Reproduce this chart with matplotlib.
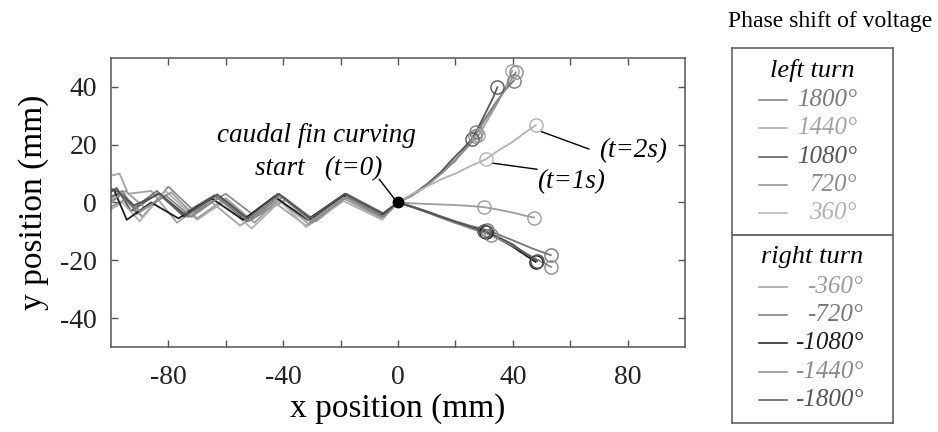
import numpy as np
import matplotlib
matplotlib.use("Agg")
from matplotlib import pyplot as plt

plt.rcParams['font.family'] = ['Liberation Serif', 'DejaVu Serif']
plt.rcParams['axes.unicode_minus'] = False

# trajectories (mm): left part = straight swimming, right part = turn after t=0
x_l1800 = [-101, -96, -91, -82, -73, -62, -51, -40, -29.5, -17.5, -5, 0, 5, 10, 15, 20, 24, 27.3, 31, 34, 37, 40.4]
y_l1800 = [1, 4, -4, 2, -5, 2, -6, 2, -6, 2, -4.5, 0, 2.5, 6, 10, 14.5, 19.5, 24.4, 30, 34.5, 38.5, 42.2]
x_l1440 = [-101, -97, -94, -86, -77, -66, -55, -43, -32, -19, -6, 0, 5, 10, 15, 20, 24.5, 28, 31.5, 35, 37.5, 39.8]
y_l1440 = [9, 10, 3, 4, -7, 1, -8, 0, -8, 1.5, -5.5, 0, 2.8, 6.3, 10.5, 15, 19.5, 23.2, 29, 35, 40, 45.6]
x_l1080 = [-101, -98, -93, -83.5, -74.5, -63.5, -52.5, -41, -30.5, -18, -5, 0, 5, 10, 15, 19, 22.5, 25.7, 28.5, 31, 33, 34.6]
y_l1080 = [3, 5, -3, 3.2, -4.9, 2.2, -6.5, 2.5, -6, 3, -4.5, 0, 2.6, 6.2, 10.6, 15, 18.5, 21.8, 27, 32, 36, 39.8]
x_l720 = [-101, -95, -89, -80, -71, -60, -49.5, -39, -28.5, -17, -4.5, 0, 5, 10, 15, 20, 24, 26.8, 30, 34, 38, 41]
y_l720 = [-2, 1, -5, 5.5, -3, 3, -5, 1, -6.5, 2.5, -4, 0, 2.4, 5.8, 10, 14.6, 19, 23, 28, 34, 40, 45]
x_l360 = [-101, -96, -90, -81, -70, -61, -51, -41, -32, -19, -5.5, 0, 5, 10, 15, 20, 25, 30.5, 35, 40, 44, 48]
y_l360 = [-3, 0, -6.5, 4, -6, 0, -9, 0.5, -8.5, 0.5, -6, 0, 3, 5.5, 8, 10, 12.5, 14.9, 18, 21, 24, 26.7]

x_r360 = [-101, -95, -88, -79, -70, -60, -50, -41.5, -31, -19, -6, 0, 5, 10, 15, 20, 25, 30, 35, 40, 44, 47.4]
y_r360 = [-1, 4, -2, 3.5, -5.5, 1.5, -7, 1, -7.5, 1.5, -5, 0, -0.3, -0.5, -0.7, -0.9, -1.2, -1.6, -2.5, -3.5, -4.5, -5.2]
x_r720 = [-101, -97, -92, -84, -75, -64, -53, -42, -31, -18.5, -5.5, 0, 5, 10, 15, 20, 25, 31, 36, 41, 47, 53.2]
y_r720 = [2, 3, -2, 4, -4, 2.5, -5.5, 3, -5.5, 3, -4, 0, -1.4, -3, -4.8, -6.5, -8, -9.5, -11.5, -13.5, -16, -18.2]
x_r1080 = [-101, -99, -94.5, -86, -76.5, -65, -54, -43, -31.5, -19, -6, 0, 5, 10, 15, 20, 25, 30.5, 35, 40, 44, 48]
y_r1080 = [4, 4.5, -6, 0, -5.5, 1.5, -6, 2, -6, 2.5, -4.5, 0, -1.6, -3.3, -5.1, -6.9, -8.6, -10.1, -12.5, -15.3, -18, -20.6]
x_r1440 = [-101, -96, -90, -81, -72, -62, -52, -41, -30, -18, -5, 0, 5, 10, 15, 20, 26, 32.3, 37, 42, 48, 53.4]
y_r1440 = [0, 3, -3, 2.5, -5, 2, -6.5, 2.5, -7, 2, -5, 0, -1.6, -3.4, -5.3, -7.1, -9.2, -11.3, -13.5, -16, -19.5, -22.3]
x_r1800 = [-101, -98, -92, -83, -74, -63, -52.5, -41.5, -30.5, -18.5, -5, 0, 5, 10, 15, 20, 25, 30, 35, 40, 44, 48.5]
y_r1800 = [5, 4, -1, 3, -4.5, 2.8, -5.5, 3, -5.5, 3, -4, 0, -1.5, -3.2, -5, -6.7, -8.3, -9.8, -12, -14.5, -17.5, -20.2]

# circles at t = 1 s and t = 2 s
t1_x = [27.3, 28, 25.7, 26.8, 30.5, 30, 31, 30.5, 32.3, 30]
t1_y = [24.4, 23.2, 21.8, 23, 14.9, -1.6, -9.5, -10.1, -11.3, -9.8]
t2_x = [40.4, 39.8, 34.6, 41, 48, 47.4, 53.2, 48, 53.4, 48.5]
t2_y = [42.2, 45.6, 39.8, 45, 26.7, -5.2, -18.2, -20.6, -22.3, -20.2]

left_labels = ['1800', '1440', '1080', '720', '360']
right_labels = ['-360', '-720', '-1080', '-1440', '-1800']
left_colors = ['#7a7a7a', '#a3a3a3', '#565656', '#8c8c8c', '#b2b2b2']
right_colors = ['#9c9c9c', '#777777', '#1e1e1e', '#8a8a8a', '#555555']

paths = [(x_l1800, y_l1800), (x_l1440, y_l1440), (x_l1080, y_l1080), (x_l720, y_l720), (x_l360, y_l360),
         (x_r360, y_r360), (x_r720, y_r720), (x_r1080, y_r1080), (x_r1440, y_r1440), (x_r1800, y_r1800)]
colors = left_colors + right_colors

fig = plt.figure(figsize=(9.38, 4.32), dpi=100)
ax = fig.add_axes([0.1183, 0.1968, 0.612, 0.669])

for (xs, ys), c in zip(paths, colors):
    ax.plot(xs, ys, color=c, lw=1.3, zorder=2)
for i, c in enumerate(colors):
    ax.plot([t1_x[i], t2_x[i]], [t1_y[i], t2_y[i]], ls='none', marker='o', ms=9.5,
            mfc='none', mec=c, mew=1.0, zorder=3)
ax.plot([0], [0], marker='o', ms=7.5, color='black', zorder=4)

ax.set_xlim(-100, 100)
ax.set_ylim(-50, 50)
ax.set_xticks([-80, -40, 0, 40, 80])
ax.set_xticks([-60, -20, 20, 60], minor=True)
ax.set_yticks([-40, -20, 0, 20, 40])
ax.tick_params(which='both', direction='in', top=True, right=True, length=5, width=1,
               color='#555555', labelsize=20, labelcolor='#222222')
ax.tick_params(axis='x', pad=13)
ax.tick_params(axis='y', pad=10)
for s in ax.spines.values():
    s.set_color('#555555')
    s.set_linewidth(1.1)
ax.set_xlabel('x position (mm)', fontsize=24, labelpad=2)
ax.set_ylabel('y position (mm)', fontsize=24, labelpad=8)

# annotations
ax.text(-28.3, 23.3, 'caudal fin curving', style='italic', fontsize=19.5, ha='center', va='center')
ax.text(-27.5, 11.8, 'start   (t=0)', style='italic', fontsize=19.5, ha='center', va='center')
ax.plot([-6.5, -1.2], [8, 1.2], color='black', lw=1)
ax.text(82, 17.8, '(t=2s)', style='italic', fontsize=19.5, ha='center', va='center')
ax.plot([50, 66.5], [24.5, 18.5], color='black', lw=1)
ax.text(60.3, 7.3, '(t=1s)', style='italic', fontsize=19.5, ha='center', va='center')
ax.plot([33, 48.4], [13.6, 11.5], color='black', lw=1)

# legend drawn by hand
lg = fig.add_axes([0.7804, 0.0208, 0.1716, 0.868])
lg.set_xlim(0, 1)
lg.set_ylim(0, 1)
lg.set_xticks([])
lg.set_yticks([])
for s in lg.spines.values():
    s.set_color('#555555')
    s.set_linewidth(1.1)
lg.axhline(0.501, color='#444444', lw=1.1)
fig.text(0.885, 0.95, 'Phase shift of voltage', fontsize=17, ha='center', va='center')

step = 0.0755
for block, (head, labels, cols, top, xr) in enumerate([
        ('left turn', left_labels, left_colors, 0.941, 0.776),
        ('right turn', right_labels, right_colors, 0.443, 0.814)]):
    lg.text(0.5, top, head, style='italic', fontsize=19, ha='center', va='center')
    for k, (lab, c) in enumerate(zip(labels, cols)):
        yy = top - step * (k + 1) - 0.004
        lg.plot([0.168, 0.342], [yy, yy], color=c, lw=1.1)
        lg.text(xr, yy, lab + '°', style='italic', fontsize=18, color=c, ha='right', va='center')

fig.savefig('out.png', dpi=100)
